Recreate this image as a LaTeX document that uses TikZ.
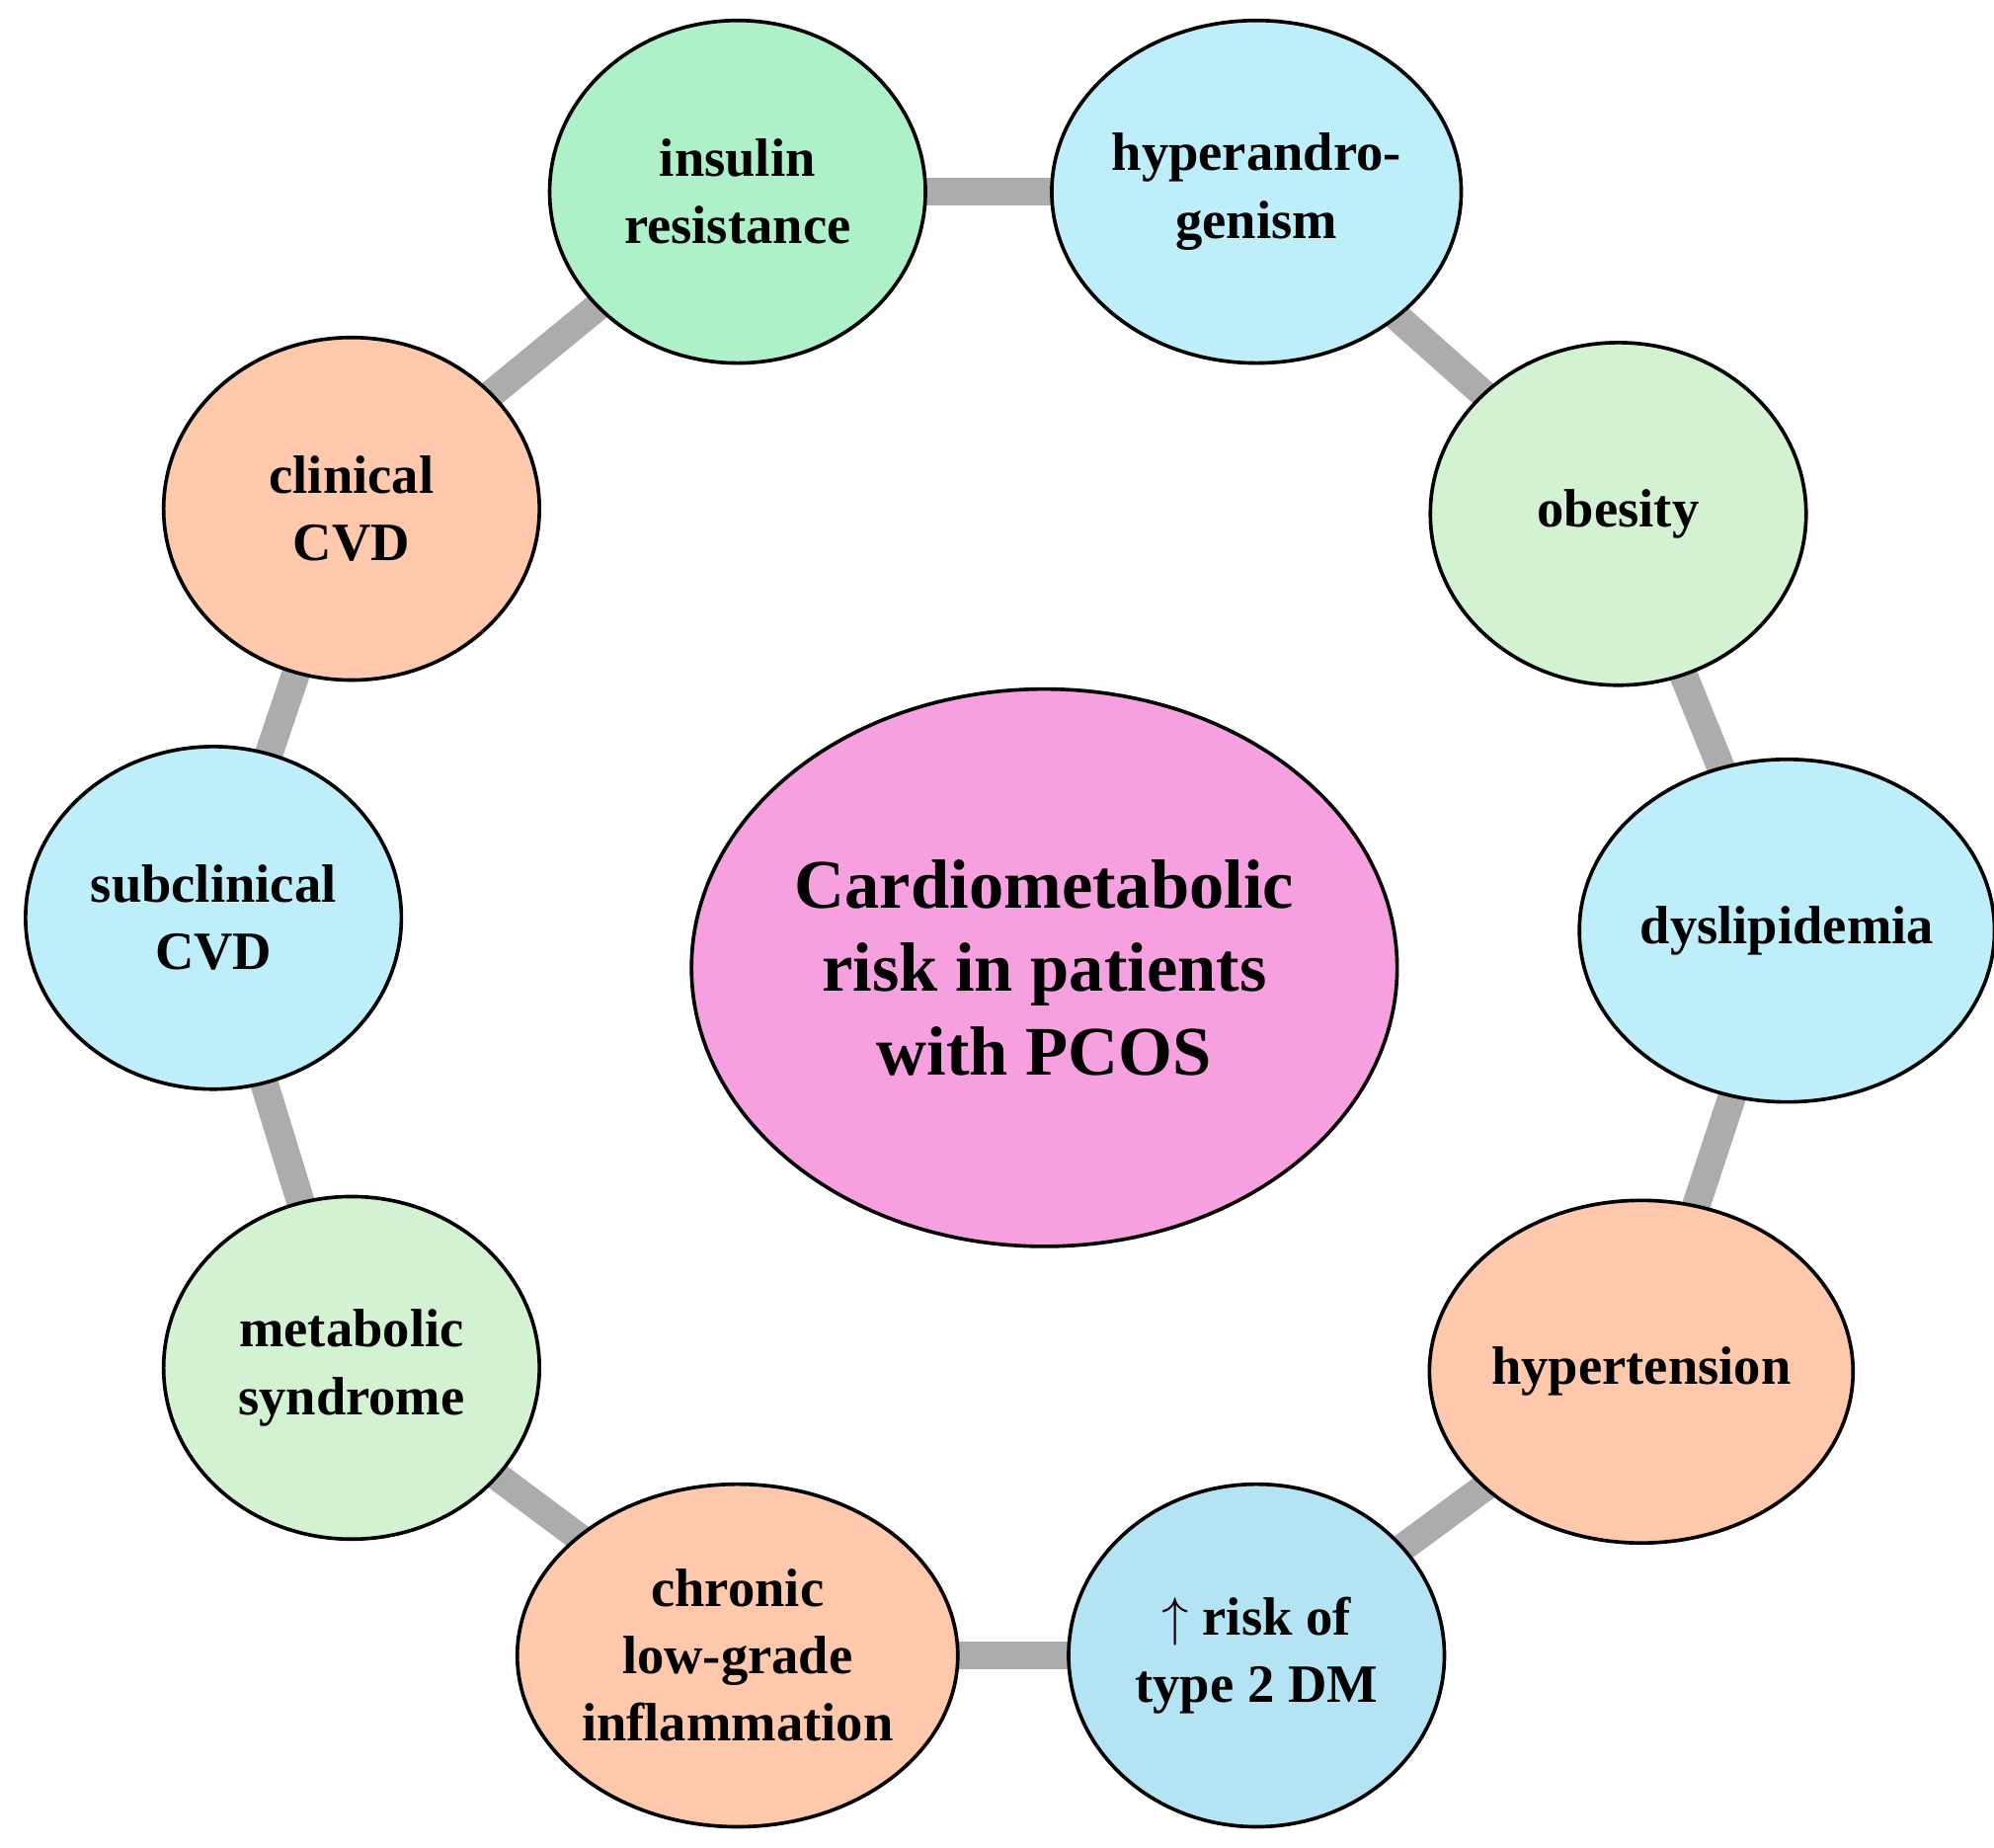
\documentclass[tikz,border=0pt]{standalone}
\usepackage{fontspec}
\setmainfont{Liberation Serif}
\usepackage{tikz}
\usetikzlibrary{shapes.geometric,backgrounds}
\definecolor{greenA}{HTML}{AEF0C8}
\definecolor{greenB}{HTML}{D2F2D2}
\definecolor{blueA}{HTML}{BDEEFA}
\definecolor{blueB}{HTML}{B4E4F4}
\definecolor{peach}{HTML}{FDC8AC}
\definecolor{pinkC}{HTML}{F7A0DF}

\begin{document}
\begin{tikzpicture}[thick, link/.style={line width=0.22cm, draw=gray!65}, factor/.style={ellipse, draw, minimum width=2.94cm, minimum height=2.68cm, inner sep=0pt, align=center, font=\fontsize{12}{15}\selectfont\bfseries}, risk/.style={ellipse, draw, minimum width=4.7cm, minimum height=4.36cm, inner sep=0pt, align=center, font=\fontsize{15.5}{18.5}\selectfont\bfseries}]
\useasboundingbox (0,0) rectangle (15.6,-14.45);

\node[factor, fill=greenA] (IR) at (5.77,-1.50) {insulin\\resistance};
\node[factor, fill=blueA] (HA) at (9.83,-1.50) {hyperandro-\\genism};
\node[factor, fill=greenB] (OB) at (12.66,-4.02) {obesity};
\node[factor, fill=blueA] (DL) at (13.98,-7.28) {dyslipidemia};
\node[factor, fill=peach] (HT) at (12.84,-10.73) {hypertension};
\node[factor, fill=blueB] (DM) at (9.83,-12.95) {$\uparrow$ risk of\\type 2 DM};
\node[factor, fill=peach] (CI) at (5.77,-12.95) {chronic\\low-grade\\inflammation};
\node[factor, fill=greenB] (MS) at (2.75,-10.70) {metabolic\\syndrome};
\node[factor, fill=blueA] (SC) at (1.67,-7.18) {subclinical\\CVD};
\node[factor, fill=peach] (CC) at (2.75,-3.98) {clinical\\CVD};

\node[risk, fill=pinkC] (PCOS) at (8.17,-7.57) {Cardiometabolic\\risk in patients\\with PCOS};

\begin{pgfonlayer}{background}
\foreach \from/\to in {IR/HA,HA/OB,OB/DL,DL/HT,HT/DM,DM/CI,CI/MS,MS/SC,SC/CC,CC/IR}
    \draw[link] (\from.center) -- (\to.center);
\end{pgfonlayer}
\end{tikzpicture}
\end{document}
